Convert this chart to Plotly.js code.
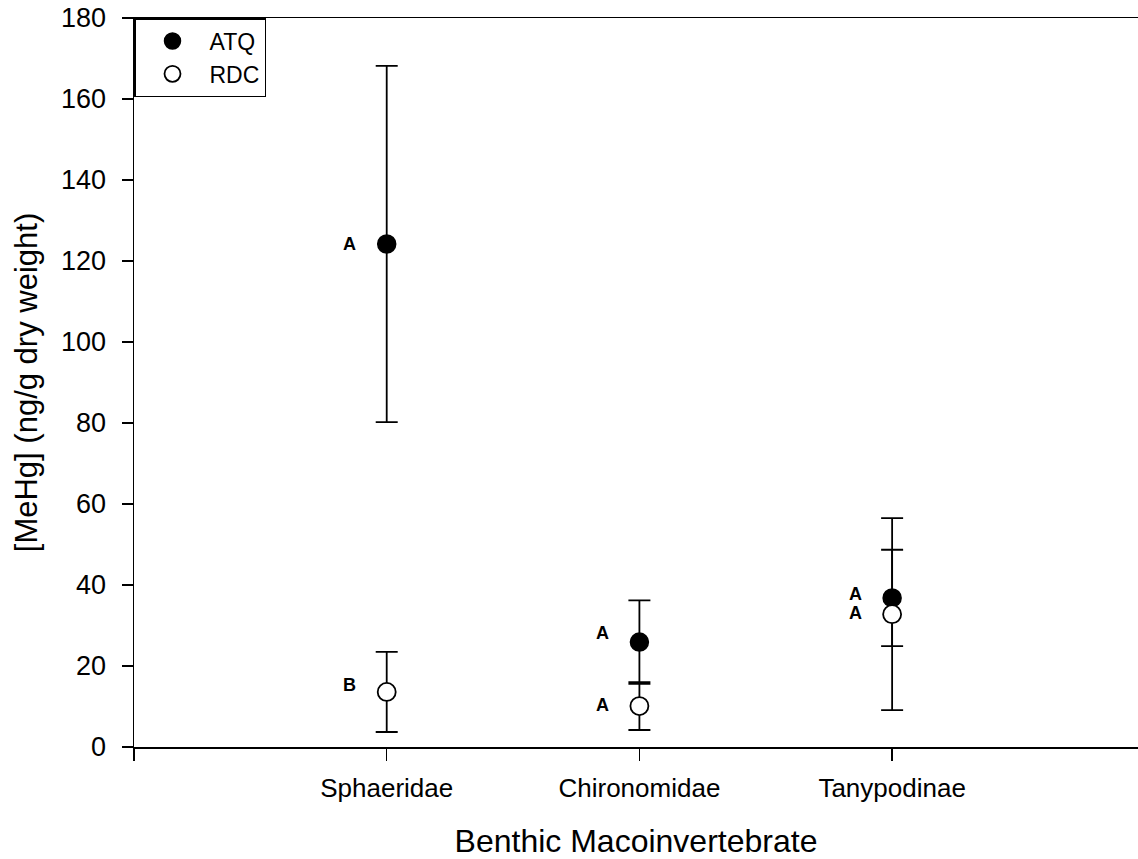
<!DOCTYPE html>
<html>
<head>
<meta charset="utf-8">
<script src="https://cdn.plot.ly/plotly-3.0.1.min.js"></script>
<style>html,body{margin:0;padding:0;background:#fff;}#chart{width:1138px;height:859px;}</style>
</head>
<body>
<div id="chart"></div>
<script>
const categories = ["Sphaeridae", "Chironomidae", "Tanypodinae"];
const catPos = [1, 2, 3];
const atqMean = [124.2, 25.9, 36.8];
const atqErr = [44.0, 10.3, 11.9];
const rdcMean = [13.6, 10.1, 32.8];
const rdcErr = [9.9, 5.9, 23.7];
const atqLetters = ["A", "A", "A"];
const rdcLetters = ["B", "A", "A"];
const atqLetterShift = [0, 9, 4];
const rdcLetterShift = [7, 1, 1];

const FONT = "Arial, 'Liberation Sans', sans-serif";
const errStyle = {type: "data", visible: true, color: "#000", thickness: 1.8, width: 11};

const traces = [
  {
    x: catPos, y: atqMean, name: "ATQ", type: "scatter", mode: "markers",
    marker: {color: "#000", size: 18, line: {color: "#000", width: 1.5}},
    error_y: Object.assign({array: atqErr}, errStyle)
  },
  {
    x: catPos, y: rdcMean, name: "RDC", type: "scatter", mode: "markers",
    marker: {color: "#fff", size: 18, line: {color: "#000", width: 1.8}},
    error_y: Object.assign({array: rdcErr}, errStyle)
  }
];

const annotations = [];
catPos.forEach((x, i) => {
  annotations.push({x: x, y: atqMean[i], text: "<b>" + atqLetters[i] + "</b>", showarrow: false,
    xshift: -37, yshift: atqLetterShift[i], font: {family: FONT, size: 18, color: "#000"}});
  annotations.push({x: x, y: rdcMean[i], text: "<b>" + rdcLetters[i] + "</b>", showarrow: false,
    xshift: -37, yshift: rdcLetterShift[i], font: {family: FONT, size: 18, color: "#000"}});
});

const layout = {
  width: 1138, height: 859,
  margin: {l: 134, r: 0, t: 18, b: 112},
  paper_bgcolor: "#fff", plot_bgcolor: "#fff",
  showlegend: true,
  legend: {x: 0, y: 1, xanchor: "left", yanchor: "top", bgcolor: "#fff",
    bordercolor: "#000", borderwidth: 1.5,
    font: {family: FONT, size: 23, color: "#000"},
    itemwidth: 64, tracegroupgap: 0},
  xaxis: {
    range: [0, 3.973], tickvals: [0, 1, 2, 3], ticktext: ["", categories[0], categories[1], categories[2]],
    showgrid: false, zeroline: false, showline: true, linecolor: "#000", linewidth: 1.5, mirror: true,
    ticks: "outside", ticklen: 12, tickwidth: 1.5, tickcolor: "#000", ticklabelstandoff: 5,
    tickfont: {family: FONT, size: 26, color: "#000"},
    title: {text: "Benthic Macoinvertebrate", font: {family: FONT, size: 32, color: "#000"}, standoff: 28}
  },
  yaxis: {
    range: [0, 180], dtick: 20, tick0: 0,
    showgrid: false, zeroline: false, showline: true, linecolor: "#000", linewidth: 1.5,
    ticks: "outside", ticklen: 11, tickwidth: 1.5, tickcolor: "#000", ticklabelstandoff: 10,
    tickfont: {family: FONT, size: 27, color: "#000"},
    title: {text: "[MeHg] (ng/g dry weight)", font: {family: FONT, size: 31, color: "#000"}, standoff: 14}
  },
  annotations: annotations
};

Plotly.newPlot("chart", traces, layout, {displayModeBar: false, staticPlot: true});
</script>
</body>
</html>
